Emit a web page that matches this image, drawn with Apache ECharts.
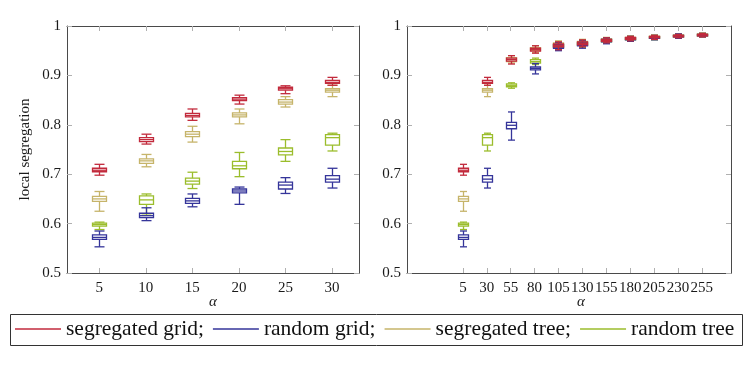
<!DOCTYPE html>
<html>
<head>
<meta charset="utf-8">
<script src="https://cdn.jsdelivr.net/npm/echarts@6/dist/echarts.min.js"></script>
<style>
  html, body { margin: 0; padding: 0; background: #fff; }
  #chart { width: 751px; height: 377px; }
</style>
</head>
<body>
<div id="chart"></div>
<script>
// alpha values on each plot
const alphaLeft = [5, 10, 15, 20, 25, 30]
const alphaRight = [5, 30, 55, 80, 105, 130, 155, 180, 205, 230, 255]

// box stats per alpha: [min, q1, median, q3, max]
const segGridLeft = [
    [0.698, 0.705, 0.708, 0.712, 0.720],
    [0.761, 0.766, 0.770, 0.774, 0.781],
    [0.809, 0.816, 0.819, 0.823, 0.832],
    [0.842, 0.849, 0.852, 0.855, 0.860],
    [0.863, 0.870, 0.873, 0.876, 0.879],
    [0.880, 0.884, 0.886, 0.890, 0.896]
]
const randGridLeft = [
    [0.553, 0.568, 0.572, 0.577, 0.585],
    [0.606, 0.612, 0.616, 0.621, 0.632],
    [0.634, 0.641, 0.646, 0.651, 0.660],
    [0.639, 0.662, 0.666, 0.670, 0.674],
    [0.661, 0.670, 0.678, 0.684, 0.693],
    [0.672, 0.684, 0.690, 0.697, 0.712]
]
const segTreeLeft = [
    [0.625, 0.645, 0.650, 0.655, 0.665],
    [0.715, 0.722, 0.727, 0.731, 0.740],
    [0.765, 0.776, 0.781, 0.786, 0.797],
    [0.802, 0.816, 0.820, 0.824, 0.832],
    [0.836, 0.842, 0.846, 0.851, 0.857],
    [0.857, 0.866, 0.870, 0.873, 0.880]
]
const randTreeLeft = [
    [0.588, 0.595, 0.598, 0.601, 0.603],
    [0.617, 0.639, 0.648, 0.656, 0.660],
    [0.671, 0.680, 0.686, 0.692, 0.704],
    [0.695, 0.711, 0.717, 0.726, 0.744],
    [0.726, 0.739, 0.746, 0.753, 0.770],
    [0.747, 0.759, 0.774, 0.780, 0.783]
]

const segGridRight = [
    [0.698, 0.705, 0.708, 0.712, 0.720],
    [0.880, 0.884, 0.886, 0.890, 0.896],
    [0.923, 0.929, 0.932, 0.935, 0.940],
    [0.945, 0.949, 0.952, 0.955, 0.960],
    [0.952, 0.958, 0.961, 0.964, 0.968],
    [0.958, 0.962, 0.965, 0.968, 0.972],
    [0.966, 0.969, 0.971, 0.973, 0.976],
    [0.970, 0.973, 0.975, 0.977, 0.979],
    [0.973, 0.976, 0.977, 0.979, 0.981],
    [0.976, 0.978, 0.980, 0.981, 0.983],
    [0.978, 0.980, 0.982, 0.983, 0.985]
]
const randGridRight = [
    [0.553, 0.568, 0.572, 0.577, 0.585],
    [0.672, 0.684, 0.690, 0.697, 0.712],
    [0.769, 0.792, 0.799, 0.805, 0.826],
    [0.903, 0.911, 0.914, 0.917, 0.924],
    [0.950, 0.955, 0.958, 0.962, 0.966],
    [0.955, 0.960, 0.963, 0.966, 0.970],
    [0.964, 0.968, 0.970, 0.973, 0.976],
    [0.969, 0.972, 0.974, 0.976, 0.979],
    [0.972, 0.975, 0.977, 0.978, 0.981],
    [0.975, 0.978, 0.979, 0.981, 0.984],
    [0.978, 0.980, 0.981, 0.983, 0.985]
]
const segTreeRight = [
    [0.625, 0.645, 0.650, 0.655, 0.665],
    [0.857, 0.866, 0.870, 0.873, 0.880],
    [0.925, 0.928, 0.932, 0.936, 0.940],
    [0.946, 0.950, 0.953, 0.956, 0.960],
    [0.953, 0.958, 0.962, 0.966, 0.970],
    [0.958, 0.962, 0.966, 0.969, 0.973],
    [0.966, 0.969, 0.972, 0.974, 0.977],
    [0.970, 0.973, 0.975, 0.977, 0.980],
    [0.973, 0.976, 0.978, 0.979, 0.982],
    [0.976, 0.978, 0.980, 0.982, 0.984],
    [0.978, 0.980, 0.982, 0.984, 0.986]
]
const randTreeRight = [
    [0.588, 0.595, 0.598, 0.601, 0.603],
    [0.747, 0.759, 0.774, 0.780, 0.783],
    [0.874, 0.877, 0.880, 0.883, 0.885],
    [0.922, 0.925, 0.928, 0.932, 0.935],
    [0.952, 0.957, 0.960, 0.963, 0.967],
    [0.957, 0.961, 0.964, 0.967, 0.971],
    [0.965, 0.968, 0.971, 0.973, 0.976],
    [0.969, 0.972, 0.974, 0.976, 0.979],
    [0.972, 0.975, 0.977, 0.979, 0.981],
    [0.975, 0.978, 0.980, 0.981, 0.983],
    [0.978, 0.980, 0.982, 0.983, 0.985]
]

const names = ['segregated grid;', 'random grid;', 'segregated tree;', 'random tree']
const colors = {
    'segregated grid;': '#c22a3c',
    'random grid;': '#35359a',
    'segregated tree;': '#c6b46a',
    'random tree': '#9bbd2c'
}

const serif = 'Liberation Serif'
const frameColor = '#4a4a4a'
const tickColor = '#b0b0b0'

function boxData(xs, stats) {
    return xs.map((x, i) => [x].concat(stats[i]))
}

function boxRenderer(boxW, capW) {
    return function (params, api) {
        const x = api.value(0)
        const lo = api.coord([x, api.value(1)])
        const q1 = api.coord([x, api.value(2)])
        const md = api.coord([x, api.value(3)])
        const q3 = api.coord([x, api.value(4)])
        const hi = api.coord([x, api.value(5)])
        const cx = Math.round(lo[0]) + 0.5
        const style = {stroke: api.visual('color'), fill: null, lineWidth: 1.3}
        const hl = (y, w) => ({type: 'line', shape: {x1: cx - w / 2, y1: y, x2: cx + w / 2, y2: y}, style})
        return {
            type: 'group',
            children: [
                {type: 'line', shape: {x1: cx, y1: q3[1], x2: cx, y2: hi[1]}, style},
                {type: 'line', shape: {x1: cx, y1: q1[1], x2: cx, y2: lo[1]}, style},
                hl(hi[1], capW),
                hl(lo[1], capW),
                {type: 'rect', shape: {x: cx - boxW / 2, y: q3[1], width: boxW, height: q1[1] - q3[1]}, style},
                hl(md[1], boxW)
            ]
        }
    }
}

function xAxes(gridIndex, min, max, ticks, namePad) {
    return [
        {
            gridIndex, type: 'value', min, max, position: 'bottom',
            axisLine: {show: true, onZero: false, lineStyle: {color: frameColor, width: 1}},
            axisTick: {show: true, inside: true, length: 5, customValues: ticks, lineStyle: {color: tickColor}},
            axisLabel: {customValues: ticks, fontFamily: serif, fontSize: 15, color: '#1a1a1a', margin: 8},
            splitLine: {show: false},
            name: 'α', nameLocation: 'middle', nameGap: 22, nameMoveOverlap: false,
            nameTextStyle: {fontFamily: serif, fontStyle: 'italic', fontSize: 15, color: '#1a1a1a', padding: namePad}
        },
        {
            gridIndex, type: 'value', min, max, position: 'top',
            axisLine: {show: true, onZero: false, lineStyle: {color: frameColor, width: 1}},
            axisTick: {show: true, inside: true, length: 5, customValues: ticks, lineStyle: {color: tickColor}},
            axisLabel: {show: false},
            splitLine: {show: false}
        }
    ]
}

function yAxes(gridIndex, withName) {
    const left = {
        gridIndex, type: 'value', min: 0.5, max: 1, interval: 0.1, position: 'left',
        axisLine: {show: true, onZero: false, lineStyle: {color: frameColor, width: 1}},
        axisTick: {show: true, inside: true, length: 5, lineStyle: {color: tickColor}},
        axisLabel: {
            fontFamily: serif, fontSize: 15, color: '#1a1a1a', margin: 6,
            formatter: v => (v === 1 ? '1' : v.toFixed(1))
        },
        splitLine: {show: false}
    }
    if (withName) {
        left.name = 'local segregation'
        left.nameLocation = 'middle'
        left.nameGap = 34
        left.nameTextStyle = {fontFamily: serif, fontSize: 15, color: '#1a1a1a'}
    }
    return [
        left,
        {
            gridIndex, type: 'value', min: 0.5, max: 1, interval: 0.1, position: 'right',
            axisLine: {show: true, onZero: false, lineStyle: {color: frameColor, width: 1}},
            axisTick: {show: true, inside: true, length: 5, lineStyle: {color: tickColor}},
            axisLabel: {show: false},
            splitLine: {show: false}
        }
    ]
}

const leftStats = {
    'segregated grid;': segGridLeft, 'random grid;': randGridLeft,
    'segregated tree;': segTreeLeft, 'random tree': randTreeLeft
}
const rightStats = {
    'segregated grid;': segGridRight, 'random grid;': randGridRight,
    'segregated tree;': segTreeRight, 'random tree': randTreeRight
}
// drawing order: red ends up on top
const drawOrder = ['segregated tree;', 'random tree', 'random grid;', 'segregated grid;']

const series = []
drawOrder.forEach((name, k) => {
    series.push({
        type: 'custom', name, xAxisIndex: 0, yAxisIndex: 0, z: 2 + k,
        itemStyle: {color: colors[name]},
        renderItem: boxRenderer(14, 10),
        encode: {x: 0, y: [1, 2, 3, 4, 5]},
        data: boxData(alphaLeft, leftStats[name])
    })
    series.push({
        type: 'custom', name, xAxisIndex: 2, yAxisIndex: 2, z: 2 + k,
        itemStyle: {color: colors[name]},
        renderItem: boxRenderer(10, 7),
        encode: {x: 0, y: [1, 2, 3, 4, 5]},
        data: boxData(alphaRight, rightStats[name])
    })
})

const option = {
    animation: false,
    backgroundColor: '#fff',
    grid: [
        {left: 67, top: 26, width: 292, height: 247},
        {left: 407, top: 26, width: 324, height: 247}
    ],
    xAxis: xAxes(0, 1.54, 32.9, alphaLeft, [0, 0, 0, 0])
        .concat(xAxes(1, -53.6, 285.6, alphaRight, [0, 0, 0, 24])),
    yAxis: yAxes(0, true).concat(yAxes(1, false)),
    legend: {
        data: names,
        left: 10, top: 313,
        icon: 'rect', itemWidth: 46, itemHeight: 1.5, itemGap: 9,
        textStyle: {fontFamily: serif, fontSize: 21.5, color: '#111'},
        selectedMode: false
    },
    graphic: [{
        type: 'rect', left: 8, top: 312, silent: true,
        shape: {width: 732, height: 31},
        style: {fill: null, stroke: '#333', lineWidth: 1}
    }],
    series
}

const chart = echarts.init(document.getElementById('chart'))
chart.setOption(option)
window.addEventListener('resize', () => chart.resize())
</script>
</body>
</html>
